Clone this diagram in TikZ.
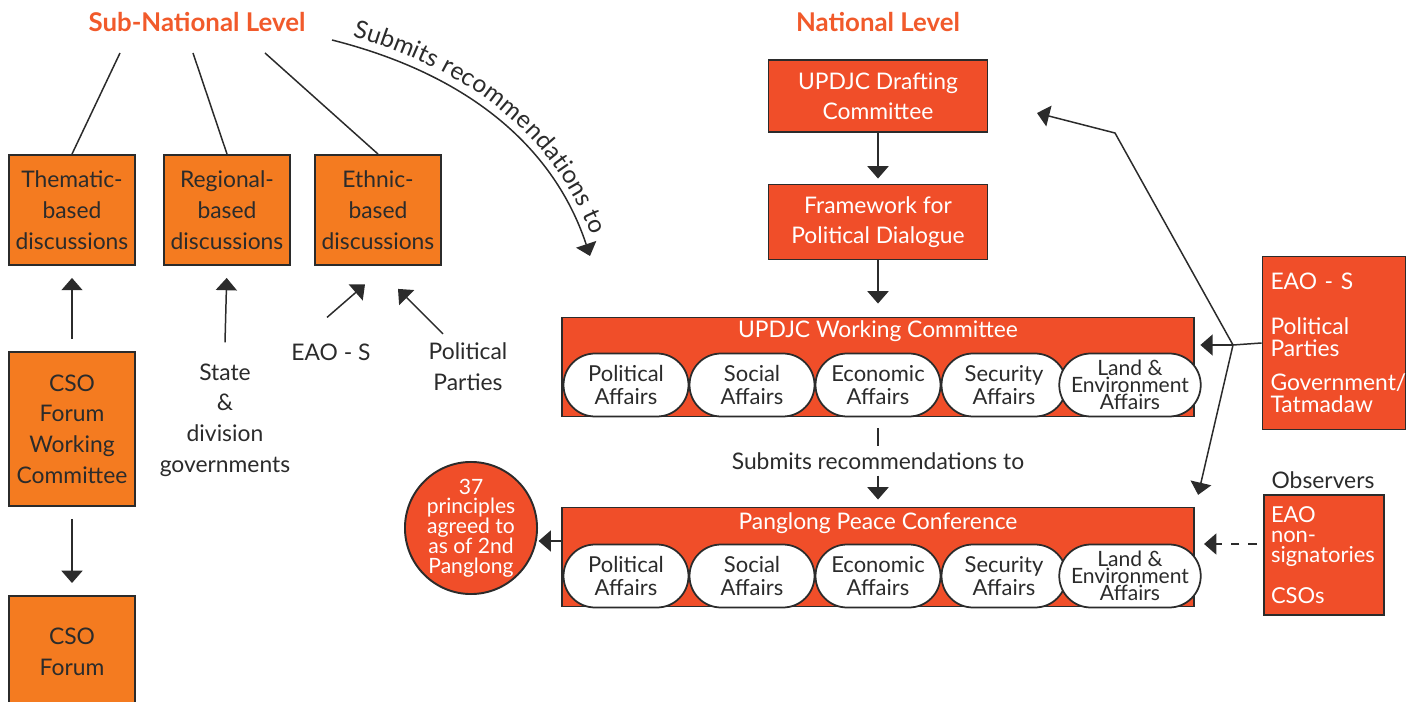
\documentclass[tikz,border=0pt]{standalone}
\usepackage{fontspec}
\setmainfont{Lato}
\usepackage{tikz}
\usetikzlibrary{arrows.meta,calc,shapes.misc,decorations.text}
\definecolor{sunorange}{HTML}{F47B20}
\definecolor{brickred}{HTML}{F04E29}
\definecolor{titlered}{HTML}{F15A2B}
\definecolor{inkgrey}{HTML}{2B2B2B}

\tikzset{
	arr/.style={line width=0.85pt, draw=inkgrey, -{Triangle[width=12pt,length=7pt]}},
	gap/.style={shorten <=0.24cm, shorten >=0.24cm},
	title/.style={text=titlered, font=\fontsize{14.7}{16}\selectfont\bfseries},
	plain/.style={text=inkgrey, align=center, font=\fontsize{13}{17.5}\selectfont},
	subbox/.style={draw=inkgrey, line width=1.1pt, fill=sunorange, text=inkgrey, align=center,
		minimum width=2.52cm, minimum height=2.2cm, inner sep=0pt, font=\fontsize{13}{17.5}\selectfont},
	natbox/.style={draw=inkgrey, line width=1.1pt, fill=brickred, text=white, align=center,
		inner sep=0pt, font=\fontsize{13}{17}\selectfont},
	panel/.style={natbox, minimum width=12.66cm, minimum height=1.98cm},
	paneltitle/.style={text=white, font=\fontsize{13}{16}\selectfont},
	affair/.style={draw=inkgrey, line width=1pt, fill=white, text=inkgrey, rounded rectangle,
		minimum width=2.5cm, minimum height=1.26cm, align=center, inner sep=0pt,
		font=\fontsize{12.5}{13.5}\selectfont},
	sidebox/.style={natbox, align=left},
}

\begin{document}
\begin{tikzpicture}[x=0.02cm, y=-0.02cm]

% parameters %{{{2

	\def\affw{126}
	\def\wcy{385}
	\def\pcy{576}

	\useasboundingbox (0,0) rectangle (1410,702);

% coordinates %{{{2

	\coordinate (fanA) at (120,53);
	\coordinate (fanB) at (193,53);
	\coordinate (fanC) at (265,53);
	\coordinate (curveA) at (332,40);
	\coordinate (curveB) at (590,256);
	\coordinate (junction) at (1233,345);
	\coordinate (bend) at (1115,133);
	\coordinate (draftTip) at (1037,113);

% titles %{{{2

	\node[title] (subnat) at (197,22) {Sub-National Level};
	\node[title] (nat) at (878,22) {National Level};

% sub-national boxes %{{{2

	\node[subbox] (thematic) at (72,210) {Thematic-\\based\\discussions};
	\node[subbox] (regional) at (227,210) {Regional-\\based\\discussions};
	\node[subbox] (ethnic) at (378,210) {Ethnic-\\based\\discussions};

	\node[subbox, minimum height=3.08cm] (csowc) at (72,429) {CSO\\Forum\\Working\\Committee};
	\node[subbox, minimum height=2.22cm, anchor=north] (csoforum) at (72,595) {CSO\\Forum};

	\node[plain] (stategov) at (225,420) {State\\\&\\division\\governments};
	\node[plain] (eaos) at (331,352) {EAO - S};
	\node[plain] (polparties) at (468,367) {Political\\Parties};

% national boxes %{{{2

	\node[natbox, minimum width=4.38cm, minimum height=1.44cm] (drafting) at (878,96) {UPDJC Drafting\\Committee};
	\node[natbox, minimum width=4.38cm, minimum height=1.5cm] (framework) at (878,222) {Framework for\\Political Dialogue};

	\node[panel] (wc) at (878,367) {};
	\node[paneltitle] (wctitle) at (878,331) {UPDJC Working Committee};
	\node[panel] (pc) at (878,557) {};
	\node[paneltitle] (pctitle) at (878,523) {Panglong Peace Conference};

	\foreach \p/\y in {wc/\wcy, pc/\pcy} {
		\foreach \name [count=\i] in {Political, Social, Economic, Security} {
			\node[affair] (\p\i) at ({626+\affw*(\i-1)},\y) {\name\\Affairs};
		}
		\node[affair, font=\fontsize{12}{9.5}\selectfont] (\p5) at (1130,\y) {Land \&\\Environment\\Affairs};
	}

	\node[plain] (midtext) at (878,461) {Submits recommendations to};

	\node[natbox, circle, minimum size=2.64cm, font=\fontsize{12}{11.3}\selectfont] (principles) at (471,528)
		{37\\principles\\agreed to\\as of 2nd\\Panglong};

% side boxes %{{{2

	\node[sidebox, text width=2.54cm, inner xsep=0.16cm, minimum height=3.46cm, font=\fontsize{13}{12.5}\selectfont] (parties) at (1334,343)
		{EAO - S\\[13pt]Political\\Parties\\[7pt]Government/\\Tatmadaw};
	\node[plain] (obslabel) at (1323,480) {Observers};
	\node[sidebox, text width=2.12cm, inner xsep=0.14cm, minimum height=2.4cm, font=\fontsize{12.5}{11.3}\selectfont] (observers) at (1324,555)
		{EAO\\non-\\signatories\\[11pt]CSOs};

% sub-national lines %{{{2

	\draw[line width=0.85pt, inkgrey] (fanA) -- (thematic.north);
	\draw[line width=0.85pt, inkgrey] (fanB) -- (regional.north);
	\draw[line width=0.85pt, inkgrey] (fanC) -- (ethnic.north);

	\draw[arr, gap] (csowc.north) -- (thematic.south);
	\draw[arr, gap] (csowc.south) -- (csoforum.north);
	\draw[arr, shorten >=0.24cm] (stategov.north) ++(0,-15) -- (regional.south);
	\draw[arr] (eaos.north) ++(-4,-20) -- ++(38,-33);
	\draw[arr] (polparties.north) ++(-25,-3) -- ++(-45,-45);

% curved arrow %{{{2

	\draw[arr] (curveA) .. controls (490,80) and (560,165) .. (curveB);
	\path[decorate, decoration={text along path, text align=center, raise=5pt,
		text={|\fontsize{14}{16}\selectfont\color{inkgrey}|Submits recommendations to}}]
		(curveA) .. controls (490,80) and (560,165) .. (curveB);

% national arrows %{{{2

	\draw[arr, shorten >=0.1cm] (drafting) -- (framework);
	\draw[arr, shorten >=0.26cm] (framework) -- (wc);
	\draw[line width=0.85pt, inkgrey, shorten <=0.22cm] (wc.south) -- (midtext.north);
	\draw[arr, shorten >=0.14cm] (midtext.south) -- (pc.north);
	\draw[arr] (pc.west) ++(0,-16) -- ++(-22,0);

% side arrows %{{{2

	\draw[line width=0.85pt, inkgrey] (parties.west) -- (junction);
	\draw[arr, shorten >=0.1cm] (junction) -- (junction -| wc.east);
	\draw[arr] (junction) -- (bend) -- (draftTip);
	\draw[arr, shorten >=0.24cm] (junction) -- (pc.north east);
	\draw[arr, dash pattern=on 5pt off 5pt] (observers.west) ++(-6,-11) -- ++(-53,0);

\end{tikzpicture}
\end{document}
